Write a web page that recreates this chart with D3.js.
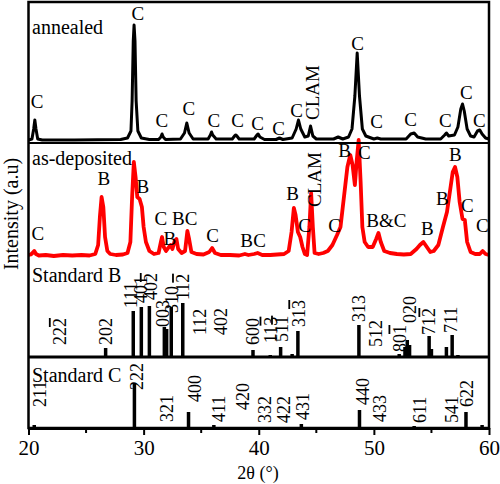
<!DOCTYPE html>
<html>
<head>
<meta charset="utf-8">
<script src="https://cdn.jsdelivr.net/npm/d3@7"></script>
<style>
  body { margin: 0; background: #fff; }
  text { font-family: "Liberation Serif", "Times New Roman", "DejaVu Serif", serif; fill: #000; }
</style>
</head>
<body>
<svg id="chart"></svg>
<script>
// 2theta / intensity pairs (a.u.)
const annealed = [
  [20,1],[20.3,2],[20.45,12],[20.55,21],[20.65,12],[20.8,2],[21.2,1],[24,1],[28,1.5],[28.6,3],
  [28.9,10],[29.0,40],[29.1,100],[29.17,116],[29.25,100],[29.35,40],[29.5,10],[29.8,3],[30.5,1.5],
  [31.3,1.5],[31.5,4],[31.6,7],[31.7,4],[31.9,1.5],[33.2,2],[33.55,8],[33.75,18],[33.95,8],[34.3,2],
  [35.6,2],[35.8,6],[35.9,9],[36.0,6],[36.3,2],[37.7,2],[37.9,5],[38.0,6],[38.1,5],[38.3,2],
  [39.6,2],[39.85,6],[39.95,7],[40.1,4],[40.5,1.5],[41.5,1.5],[41.8,3],[42.1,1.5],[42.9,3],
  [43.25,12],[43.45,21],[43.65,12],[44.0,4],[44.3,5],[44.5,15],[44.7,5],[45.0,2],[46.5,2],[46.9,4],
  [47.3,2],[47.8,4],[48.1,12],[48.35,45],[48.55,88],[48.75,45],[49.0,12],[49.3,5],[50.0,2],[50.3,3],
  [50.6,2],[52.8,2],[53.2,7],[53.5,8],[53.8,4],[54.5,2],[55.8,2],[56.15,6],[56.3,8],[56.5,5],[57.0,6],
  [57.3,14],[57.55,32],[57.7,37],[57.85,30],[58.1,12],[58.4,5],[58.7,4],[59.0,10],[59.2,11],[59.4,7],
  [59.7,3],[60,2]
];
const asDeposited = [
  [20,2],[20.2,2.5],[20.35,4],[20.5,6],[20.65,3],[20.9,1.5],[21.5,2],[22.2,1],[23.0,2],[23.8,1.5],
  [24.6,2],[25.3,1.5],[25.8,3],[26.05,12],[26.2,40],[26.35,60],[26.5,50],[26.65,20],[26.85,6],[27.1,3],
  [27.6,2],[28.2,2.5],[28.6,4],[28.85,15],[29.0,60],[29.15,95],[29.3,80],[29.45,60],[29.65,58],
  [29.85,50],[30.0,30],[30.2,15],[30.5,6],[30.9,3],[31.3,4],[31.5,15],[31.6,20],[31.75,10],[31.95,6],
  [32.2,10],[32.35,12],[32.5,8],[32.7,16],[32.85,18],[33.0,8],[33.3,4],[33.6,6],[33.8,26],[33.95,18],
  [34.15,5],[34.6,3],[35.2,2.5],[35.7,5],[35.95,9],[36.2,4],[36.7,2],[37.5,2],[38.3,1.5],[38.8,3],
  [39.1,2],[39.6,3],[39.9,4],[40.3,2],[41.0,2],[41.6,2.5],[42.2,3],[42.6,6],[42.85,25],[43.05,49],
  [43.2,42],[43.4,25],[43.6,20],[43.8,10],[44.0,3],[44.2,2],[44.4,30],[44.55,64],[44.7,30],[44.85,4],
  [45.2,3],[45.6,4],[46.0,6],[46.4,12],[46.8,22],[47.1,30],[47.4,60],[47.7,90],[47.95,102],[48.15,92],
  [48.35,72],[48.5,95],[48.68,117],[48.85,75],[49.0,30],[49.2,15],[49.5,10],[49.9,10],[50.2,18],
  [50.4,24],[50.6,15],[50.9,6],[51.4,4],[52.0,3],[52.6,2.5],[53.2,3],[53.7,8],[54.0,12],[54.3,15],
  [54.6,10],[54.9,5],[55.2,6],[55.6,12],[56.0,30],[56.35,45],[56.6,65],[56.85,85],[57.05,90],
  [57.25,80],[57.45,55],[57.7,38],[57.9,37],[58.1,15],[58.4,5],[58.8,3],[59.2,3],[59.45,6],[59.7,3],[60,2]
];

// standard reference sticks [2theta, intensity]
const standardB = [
  [22.7,1],[26.7,9],[29.1,46],[29.8,50],[30.5,51],[31.8,30],[32.0,28],[32.4,50],[33.4,54],[34.9,1],
  [36.7,1],[39.5,7],[41.0,2],[41.9,10],[42.9,3],[43.4,26],[48.7,32],[50.2,1],[52.2,3],[52.7,10],
  [52.9,17],[53.1,12],[54.8,21],[55.0,8],[56.3,10],[56.8,22],[57.3,2],[58.2,1]
];
const standardC = [
  [20.5,3],[29.2,45],[31.7,1],[33.9,16],[36.1,3],[38.2,1],[40.0,1],[42.0,1],[43.7,4],[48.75,18],
  [50.5,1],[53.5,2],[56.4,1],[58.0,16],[59.4,3]
];

// phase labels [2theta, intensity, text, vertical?]
const annealedLabels = [
  [20.74,33,"C"],[29.5,121,"C"],[31.58,14,"C"],[33.92,26,"C"],[36.09,14,"C"],[38.17,14,"C"],
  [39.9,11,"C"],[41.73,6,"C"],[43.29,24,"C"],[44.68,21,"CLAM",true],[48.58,91,"C"],[50.23,13,"C"],
  [53.18,15,"C"],[56.21,14,"C"],[58.03,42,"C"],[59.16,14,"C"]
];
const asDepositedLabels = [
  [20.82,17,"C"],[26.55,72,"B"],[29.93,64,"B"],[31.49,32,"C"],[32.27,12,"B"],[33.57,32,"BC"],
  [36.0,15,"C"],[38.95,10,"B"],[40.08,10,"C"],[42.94,57,"B"],[43.98,25,"C"],[44.85,50,"CLAM",true],
  [46.58,25,"C"],[47.45,100,"B"],[49.18,98,"C"],[51.09,30,"B&C"],[54.65,22,"B"],[55.95,52,"B"],
  [57.08,96,"B"],[58.12,45,"C"],[59.42,25,"C"]
];
// Miller indices, \u0305 = bar over previous digit
const standardBLabels = [
  [22.7,12,"222\u0305"],[26.7,12,"202"],[28.9,49,"111"],[29.75,54,"401"],[30.6,57,"402\u0305"],
  [31.65,30,"003"],[32.45,44,"310"],[33.4,57,"112\u0305"],[34.9,22,"112"],[36.7,22,"402"],
  [39.5,12,"600"],[41.0,14,"113\u0305"],[42.0,15,"511\u0305"],[43.5,30,"313\u0305"],[48.7,35,"313"],
  [50.2,10,"512"],[52.2,5,"801\u0305"],[53.1,34,"020"],[54.8,22,"712\u0305"],[56.7,24,"711"]
];
const standardCLabels = [
  [21.0,21,"211"],[29.4,38,"222"],[32.0,6,"321"],[34.4,26,"400"],[36.5,6,"411"],[38.6,18,"420"],
  [40.5,5,"332"],[42.2,5,"422"],[43.8,8,"431"],[49.0,23,"440"],[50.5,6,"433"],[54.0,5,"611"],
  [56.8,5,"541"],[58.1,21,"622"]
];

const panelNames = ["annealed", "as-deposited", "Standard B", "Standard C"];
const xMajor = [20, 30, 40, 50, 60];
const xMinor = [25, 35, 45, 55];

const W = 500, H = 484;
const svg = d3.select("#chart").attr("width", W).attr("height", H);

const x = d3.scaleLinear().domain([20, 60]).range([28.5, 489]);

// one y scale per stacked panel (baseline -> top)
const yA = d3.scaleLinear().domain([0, 139]).range([141, 2]);
const yD = d3.scaleLinear().domain([0, 117]).range([257, 140]);
const yB = d3.scaleLinear().domain([0, 100]).range([357, 257]);
const yC = d3.scaleLinear().domain([0, 71]).range([428, 357]);

const line = yS => d3.line().x(d => x(d[0])).y(d => yS(d[1]));

// curves
svg.append("path").datum(asDeposited)
  .attr("d", line(yD))
  .attr("fill", "none").attr("stroke", "#ff0000")
  .attr("stroke-width", 3.8).attr("stroke-linejoin", "round");

svg.append("path").datum(annealed)
  .attr("d", line(yA))
  .attr("fill", "none").attr("stroke", "#000")
  .attr("stroke-width", 3).attr("stroke-linejoin", "round");

// sticks
function sticks(data, yS) {
  svg.append("g").selectAll("line")
    .data(data).join("line")
    .attr("x1", d => x(d[0])).attr("x2", d => x(d[0]))
    .attr("y1", yS(0)).attr("y2", d => yS(d[1]))
    .attr("stroke", "#000").attr("stroke-width", 3.5);
}
sticks(standardB, yB);
sticks(standardC, yC);

// frame + panel separators
const frame = svg.append("g").attr("stroke", "#000").attr("fill", "none");
frame.append("rect")
  .attr("x", x(20)).attr("y", 2)
  .attr("width", x(60) - x(20)).attr("height", yC(0) - 2)
  .attr("stroke-width", 2.5);
frame.append("line").attr("x1", x(20)).attr("x2", x(60))
  .attr("y1", 143).attr("y2", 143).attr("stroke-width", 2);
frame.append("line").attr("x1", x(20)).attr("x2", x(60))
  .attr("y1", yB(0)).attr("y2", yB(0)).attr("stroke-width", 3);

// bottom axis
const xAxis = d3.axisBottom(x).tickValues(xMajor).tickSize(7).tickPadding(5).tickSizeOuter(0);
const axG = svg.append("g").attr("transform", `translate(0,${yC(0)})`).call(xAxis);
axG.attr("font-family", null);
axG.select(".domain").attr("stroke-width", 3);
axG.selectAll(".tick line").attr("stroke-width", 2);
axG.selectAll(".tick text").style("font-size", "21px");
axG.selectAll(".minor").data(xMinor).join("line")
  .attr("class", "minor")
  .attr("x1", d => x(d)).attr("x2", d => x(d))
  .attr("y1", 0).attr("y2", 5)
  .attr("stroke", "#000").attr("stroke-width", 2);

svg.append("text")
  .attr("x", 258).attr("y", 479)
  .attr("text-anchor", "middle")
  .style("font-size", "18px")
  .text("2θ (°)");

svg.append("text")
  .attr("transform", "translate(18,214) rotate(-90)")
  .attr("text-anchor", "middle")
  .style("font-size", "20px")
  .text("Intensity (a.u)");

// panel names
const nameY = [34, 165, 282, 382];
svg.append("g").selectAll("text")
  .data(panelNames).join("text")
  .attr("x", 32).attr("y", (d, i) => nameY[i])
  .style("font-size", "20px")
  .text(d => d);

// text with optional overbar (combining U+0305 after the digit)
function fillIndex(sel, s) {
  const chars = Array.from(s);
  chars.forEach((c, i) => {
    if (c === "\u0305") return;
    const t = sel.append("tspan").text(c);
    if (chars[i + 1] === "\u0305") t.style("text-decoration", "overline");
  });
}

function phaseLabels(data, yS) {
  const g = svg.append("g").style("font-size", "19px");
  data.forEach(d => {
    if (d[3]) {
      g.append("text")
        .attr("transform", `translate(${x(d[0])},${yS(d[1])}) rotate(-90)`)
        .attr("dy", "0.35em")
        .text(d[2]);
    } else {
      g.append("text")
        .attr("x", x(d[0])).attr("y", yS(d[1]))
        .attr("text-anchor", "middle")
        .text(d[2]);
    }
  });
}
phaseLabels(annealedLabels, yA);
phaseLabels(asDepositedLabels, yD);

function indexLabels(data, yS) {
  const g = svg.append("g").style("font-size", "18px");
  data.forEach(d => {
    const t = g.append("text")
      .attr("transform", `translate(${x(d[0])},${yS(d[1])}) rotate(-90)`)
      .attr("dy", "0.35em");
    fillIndex(t, d[2]);
  });
}
indexLabels(standardBLabels, yB);
indexLabels(standardCLabels, yC);
</script>
</body>
</html>
